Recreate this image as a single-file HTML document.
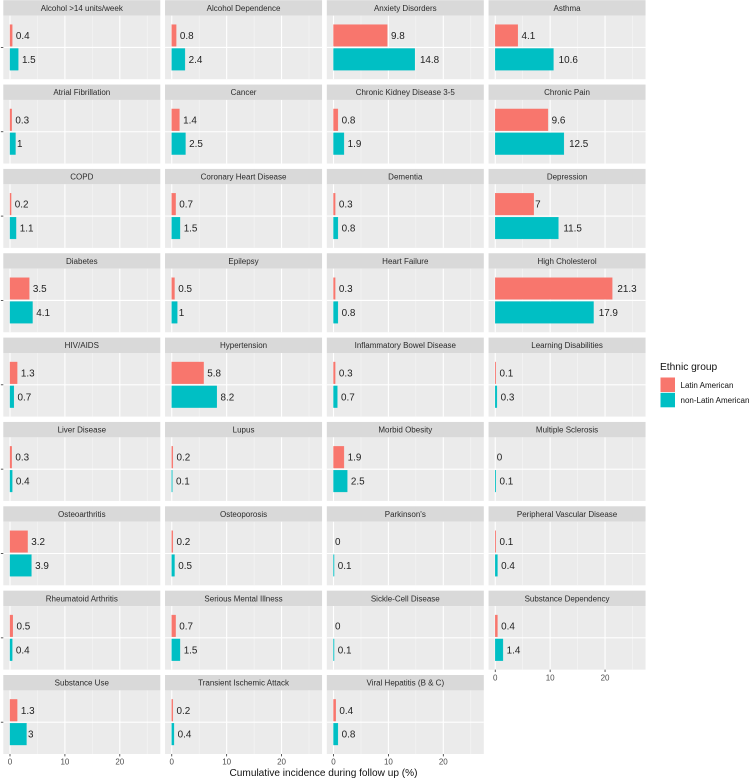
<!DOCTYPE html>
<html>
<head>
<meta charset="utf-8">
<style>
html,body{margin:0;padding:0;background:#fff;width:750px;height:779px;overflow:hidden}
svg{display:block;filter:blur(0.3px)}
text{font-family:"Liberation Sans",sans-serif}
</style>
</head>
<body>
<svg id="chart" xmlns="http://www.w3.org/2000/svg" width="750" height="779" viewBox="0 0 750 779">
  <text x="323.5" y="776" font-size="10.1" fill="#111" text-anchor="middle">Cumulative incidence during follow up (%)</text>
  <g>
    <text x="660" y="370" font-size="10.2" fill="#111">Ethnic group</text>
    <rect x="660.5" y="377.5" width="14.5" height="14.5" fill="#F8766D"/>
    <text x="680.5" y="388" font-size="8" fill="#111">Latin American</text>
    <rect x="660.5" y="392.8" width="14.5" height="14.5" fill="#00BFC4"/>
    <text x="680.5" y="403" font-size="8" fill="#111">non-Latin American</text>
  </g>
</svg>
<script>
const conditions = ["Alcohol >14 units/week","Alcohol Dependence","Anxiety Disorders","Asthma","Atrial Fibrillation","Cancer","Chronic Kidney Disease 3-5","Chronic Pain","COPD","Coronary Heart Disease","Dementia","Depression","Diabetes","Epilepsy","Heart Failure","High Cholesterol","HIV/AIDS","Hypertension","Inflammatory Bowel Disease","Learning Disabilities","Liver Disease","Lupus","Morbid Obesity","Multiple Sclerosis","Osteoarthritis","Osteoporosis","Parkinson's","Peripheral Vascular Disease","Rheumatoid Arthritis","Serious Mental Illness","Sickle-Cell Disease","Substance Dependency","Substance Use","Transient Ischemic Attack","Viral Hepatitis (B & C)"];
const latinAmerican = [0.4,0.8,9.8,4.1,0.3,1.4,0.8,9.6,0.2,0.7,0.3,7,3.5,0.5,0.3,21.3,1.3,5.8,0.3,0.1,0.3,0.2,1.9,0,3.2,0.2,0,0.1,0.5,0.7,0,0.4,1.3,0.2,0.4];
const nonLatinAmerican = [1.5,2.4,14.8,10.6,1,2.5,1.9,12.5,1.1,1.5,0.8,11.5,4.1,1,0.8,17.9,0.7,8.2,0.7,0.3,0.4,0.1,2.5,0.1,3.9,0.5,0.1,0.4,0.4,1.5,0.1,1.4,3,0.4,0.8];
const xTicks = [0,10,20];
const xMinorTicks = [5,15,25];

const svg = document.getElementById('chart');
const NS = 'http://www.w3.org/2000/svg';
const COLS = 4, PX_PER_UNIT = 5.49, PANEL_W = 157, PANEL_H = 63.6, STRIP_H = 15.4, ROW_STEP = 84.35, COL_STEP = 161.75, LEFT = 3.3;
const ZERO_OFFSET = 6.7;
const BAR_H = 21.7, BAR_GAP = 7.2;

function make(tag, attrs, parent) {
  const el = document.createElementNS(NS, tag);
  for (const k in attrs) el.setAttribute(k, attrs[k]);
  parent.appendChild(el);
  return el;
}
function xScale(panelLeft, v) { return panelLeft + ZERO_OFFSET + v * PX_PER_UNIT; }
function slug(s) { return s.toLowerCase().replace(/[^a-z0-9]+/g, '-').replace(/^-|-$/g, ''); }

function drawBar(g, panelLeft, cy, value, fill, group, name) {
  const x0 = xScale(panelLeft, 0);
  const bar = make('rect', {x: x0, y: cy - BAR_H / 2, width: xScale(panelLeft, value) - x0, height: BAR_H, fill: fill}, g);
  if (value > 0) {
    bar.setAttribute('stroke', fill);
    bar.setAttribute('stroke-width', '0.35');
  }
  
  
  const label = make('text', {y: cy + 3.5, 'font-size': 9.9, fill: '#222'}, g);
  label.textContent = String(value);
  
  
  svg.appendChild(g);
  const w = label.getComputedTextLength();
  label.setAttribute('x', xScale(panelLeft, value) + w * 0.27);
}

conditions.forEach(function (cond, i) {
  const col = i % COLS, row = Math.floor(i / COLS);
  const left = LEFT + col * COL_STEP;
  const top = 0.2 + row * ROW_STEP;
  const panelTop = top + STRIP_H;
  const name = slug(cond);
  const g = make('g', {}, svg);
  
  

  const strip = make('rect', {x: left, y: top, width: PANEL_W, height: STRIP_H, fill: '#D9D9D9'}, g);
  
  
  const title = make('text', {x: left + PANEL_W / 2, y: top + 10.6, 'font-size': 8, fill: '#2a2a2a', 'text-anchor': 'middle'}, g);
  title.textContent = cond;
  
  

  const panel = make('rect', {x: left, y: panelTop, width: PANEL_W, height: PANEL_H, fill: '#EBEBEB'}, g);
  
  

  xMinorTicks.forEach(function (t) {
    const x = xScale(left, t);
    const line = make('line', {x1: x, x2: x, y1: panelTop, y2: panelTop + PANEL_H, stroke: '#F6F6F6', 'stroke-width': 0.6}, g);
    
    
  });
  xTicks.forEach(function (t) {
    const x = xScale(left, t);
    const line = make('line', {x1: x, x2: x, y1: panelTop, y2: panelTop + PANEL_H, stroke: '#FFFFFF', 'stroke-width': 1.1}, g);
    
    
  });
  const cy = panelTop + PANEL_H / 2;
  const hline = make('line', {x1: left, x2: left + PANEL_W, y1: cy, y2: cy, stroke: '#FFFFFF', 'stroke-width': 1.1}, g);
  
  

  drawBar(g, left, cy - BAR_GAP - BAR_H / 2 + 6.1, latinAmerican[i], '#F8766D', 'latin-american', name);
  drawBar(g, left, cy + BAR_GAP + BAR_H / 2 - 6.1, nonLatinAmerican[i], '#00BFC4', 'non-latin-american', name);

  if (col === 0) {
    const yTick = make('line', {x1: left - 2.4, x2: left, y1: cy, y2: cy, stroke: '#333', 'stroke-width': 0.8}, g);
    
    
  }
  const isBottom = i + COLS >= conditions.length;
  if (isBottom) {
    xTicks.forEach(function (t) {
      const x = xScale(left, t);
      const bottom = panelTop + PANEL_H;
      const tick = make('line', {x1: x, x2: x, y1: bottom, y2: bottom + 2.4, stroke: '#333', 'stroke-width': 0.8}, g);
      
      
      const lab = make('text', {x: x, y: bottom + 10.6, 'font-size': 8, fill: '#4D4D4D', 'text-anchor': 'middle'}, g);
      lab.textContent = String(t);
      
      
    });
  }
});
</script>
</body>
</html>
